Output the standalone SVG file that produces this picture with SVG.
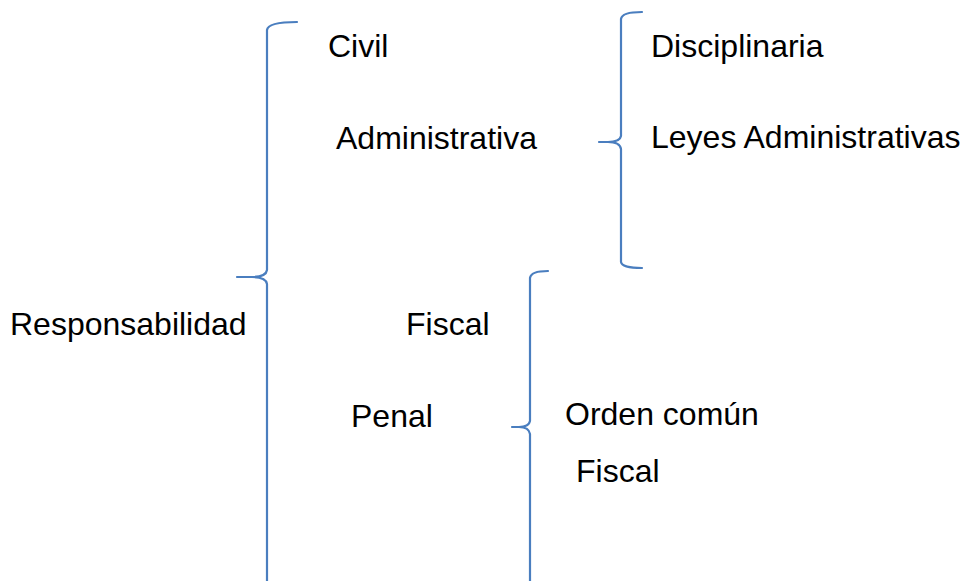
<svg xmlns="http://www.w3.org/2000/svg" width="967" height="581" viewBox="0 0 967 581">
<style>
.t{font-family:"Liberation Sans",Arial,sans-serif;font-size:32px;fill:#000}
.b{fill:none;stroke:#4a7ebf;stroke-width:2.2;stroke-linecap:round}
</style>
<rect width="967" height="581" fill="#fff"/>
<g id="connectors">
<path class="b" d="M297,22 Q268,22 267,30 L267,270 Q266,277 252,277 L237,277 M252,277 Q266,277 267,284 L267,582"/>
<path class="b" d="M642,12 Q622,12 621,19 L621,136 Q620,142 608,142 L599,142 M608,142 Q620,142 621,149 L621,262 Q622,268 642,268"/>
<path class="b" d="M548,271 Q531,271 530,278 L530,421 Q529,427 519,427 L512,427 M519,427 Q529,427 530,434 L530,582"/>
</g>
<g id="n-responsabilidad"><text class="t" x="10" y="335">Responsabilidad</text></g>
<g id="n-civil"><text class="t" x="328" y="57">Civil</text></g>
<g id="n-administrativa"><text class="t" x="336" y="149">Administrativa</text></g>
<g id="n-fiscal"><text class="t" x="406" y="335">Fiscal</text></g>
<g id="n-penal"><text class="t" x="351" y="427">Penal</text></g>
<g id="n-disciplinaria"><text class="t" x="651" y="57">Disciplinaria</text></g>
<g id="n-leyes"><text class="t" x="651" y="148">Leyes Administrativas</text></g>
<g id="n-orden"><text class="t" x="565" y="425">Orden común</text></g>
<g id="n-fiscal2"><text class="t" x="576" y="482">Fiscal</text></g>
</svg>
